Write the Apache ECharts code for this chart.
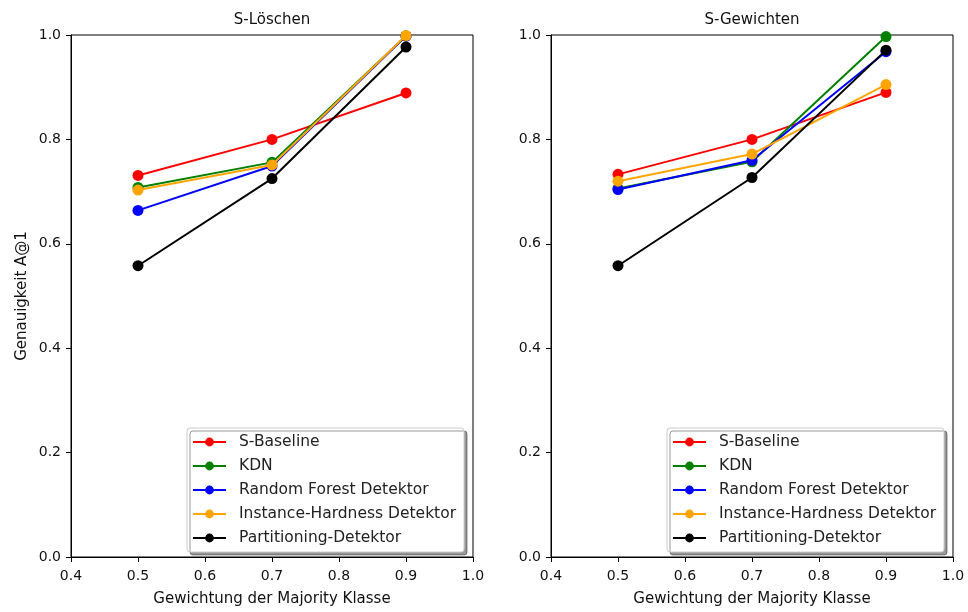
<!DOCTYPE html>
<html>
<head>
<meta charset="utf-8">
<script src="https://cdn.jsdelivr.net/npm/echarts@6/dist/echarts.min.js"></script>
<style>
  html, body { margin: 0; padding: 0; background: #fff; }
  #chart { width: 968px; height: 612px; }
</style>
</head>
<body>
<div id="chart"></div>
<script>
// Gewichtung der Majority Klasse
var weights = [0.5, 0.7, 0.9];
var seriesNames = ['S-Baseline', 'KDN', 'Random Forest Detektor', 'Instance-Hardness Detektor', 'Partitioning-Detektor'];
var colors = ['#ff0000', '#008000', '#0000ff', '#ffa500', '#000000'];
var panelTitles = ['S-Löschen', 'S-Gewichten'];

// S-Löschen
var loeschenBaseline = [0.731, 0.800, 0.889];
var loeschenKDN = [0.708, 0.756, 0.998];
var loeschenRF = [0.664, 0.749, 0.998];
var loeschenIH = [0.703, 0.751, 0.999];
var loeschenPart = [0.558, 0.725, 0.977];

// S-Gewichten
var gewichtenBaseline = [0.733, 0.800, 0.890];
var gewichtenKDN = [0.706, 0.757, 0.997];
var gewichtenRF = [0.704, 0.760, 0.968];
var gewichtenIH = [0.720, 0.772, 0.905];
var gewichtenPart = [0.558, 0.727, 0.971];

var panels = [
    [loeschenBaseline, loeschenKDN, loeschenRF, loeschenIH, loeschenPart],
    [gewichtenBaseline, gewichtenKDN, gewichtenRF, gewichtenIH, gewichtenPart]
];

var font = 'DejaVu Sans';
var gridLefts = [71, 551];

function makeSeries(panelIndex) {
    return panels[panelIndex].map(function (values, i) {
        return {
            name: seriesNames[i],
            type: 'line',
            xAxisIndex: panelIndex,
            yAxisIndex: panelIndex,
            data: weights.map(function (w, k) { return [w, values[k]]; }),
            symbol: 'circle',
            symbolSize: 11,
            showSymbol: true,
            color: colors[i],
            lineStyle: { width: 2, color: colors[i] },
            itemStyle: { color: colors[i] },
            emphasis: { disabled: true },
            animation: false,
            z: 2 + i
        };
    });
}

var option = {
    backgroundColor: '#ffffff',
    animation: false,
    textStyle: { fontFamily: font },
    title: panelTitles.map(function (t, i) {
        return {
            text: t,
            left: gridLefts[i] + 201,
            top: 13,
            padding: 0,
            textAlign: 'center',
            textStyle: { fontFamily: font, fontSize: 15, fontWeight: 'normal', color: '#111' }
        };
    }),
    grid: gridLefts.map(function (l) {
        return { left: l, width: 402, top: 35, height: 524, show: true, borderColor: '#000', borderWidth: 1, backgroundColor: 'transparent' };
    }),
    xAxis: [0, 1].map(function (i) {
        return {
            type: 'value',
            gridIndex: i,
            min: 0.4,
            max: 1.0,
            interval: 0.1,
            name: 'Gewichtung der Majority Klasse',
            nameLocation: 'middle',
            nameGap: 35,
            nameTextStyle: { fontFamily: font, fontSize: 15, color: '#111' },
            axisLine: { show: true, lineStyle: { color: '#000', width: 1 } },
            axisTick: { show: true, inside: false, length: 5, lineStyle: { color: '#000' } },
            axisLabel: { fontFamily: font, fontSize: 14, color: '#111', margin: 12, formatter: function (v) { return v.toFixed(1); } },
            splitLine: { show: false }
        };
    }),
    yAxis: [0, 1].map(function (i) {
        return {
            type: 'value',
            gridIndex: i,
            min: 0,
            max: 1.0,
            interval: 0.2,
            name: i === 0 ? 'Genauigkeit A@1' : '',
            nameLocation: 'middle',
            nameGap: 41,
            nameTextStyle: { fontFamily: font, fontSize: 15, color: '#111' },
            axisLine: { show: true, lineStyle: { color: '#000', width: 1 } },
            axisTick: { show: true, inside: false, length: 5, lineStyle: { color: '#000' } },
            axisLabel: { fontFamily: font, fontSize: 14, color: '#111', margin: 10, formatter: function (v) { return v.toFixed(1); } },
            splitLine: { show: false }
        };
    }),
    legend: gridLefts.map(function (l) {
        return {
            data: seriesNames,
            orient: 'vertical',
            left: l + 116,
            top: 428,
            itemWidth: 33,
            itemHeight: 11,
            itemGap: 8,
            padding: [6, 8, 6, 5],
            backgroundColor: '#ffffff',
            borderColor: '#cccccc',
            borderWidth: 1,
            borderRadius: 3,
            shadowColor: 'rgba(0,0,0,0.4)',
            shadowBlur: 0,
            shadowOffsetX: 3,
            shadowOffsetY: 3,
            selectedMode: false,
            textStyle: { fontFamily: font, fontSize: 15.5, color: '#222', padding: [0, 0, 0, 8] }
        };
    }),
    series: makeSeries(0).concat(makeSeries(1))
};

var myChart = echarts.init(document.getElementById('chart'), null, { renderer: 'canvas' });
myChart.setOption(option);
</script>
</body>
</html>
